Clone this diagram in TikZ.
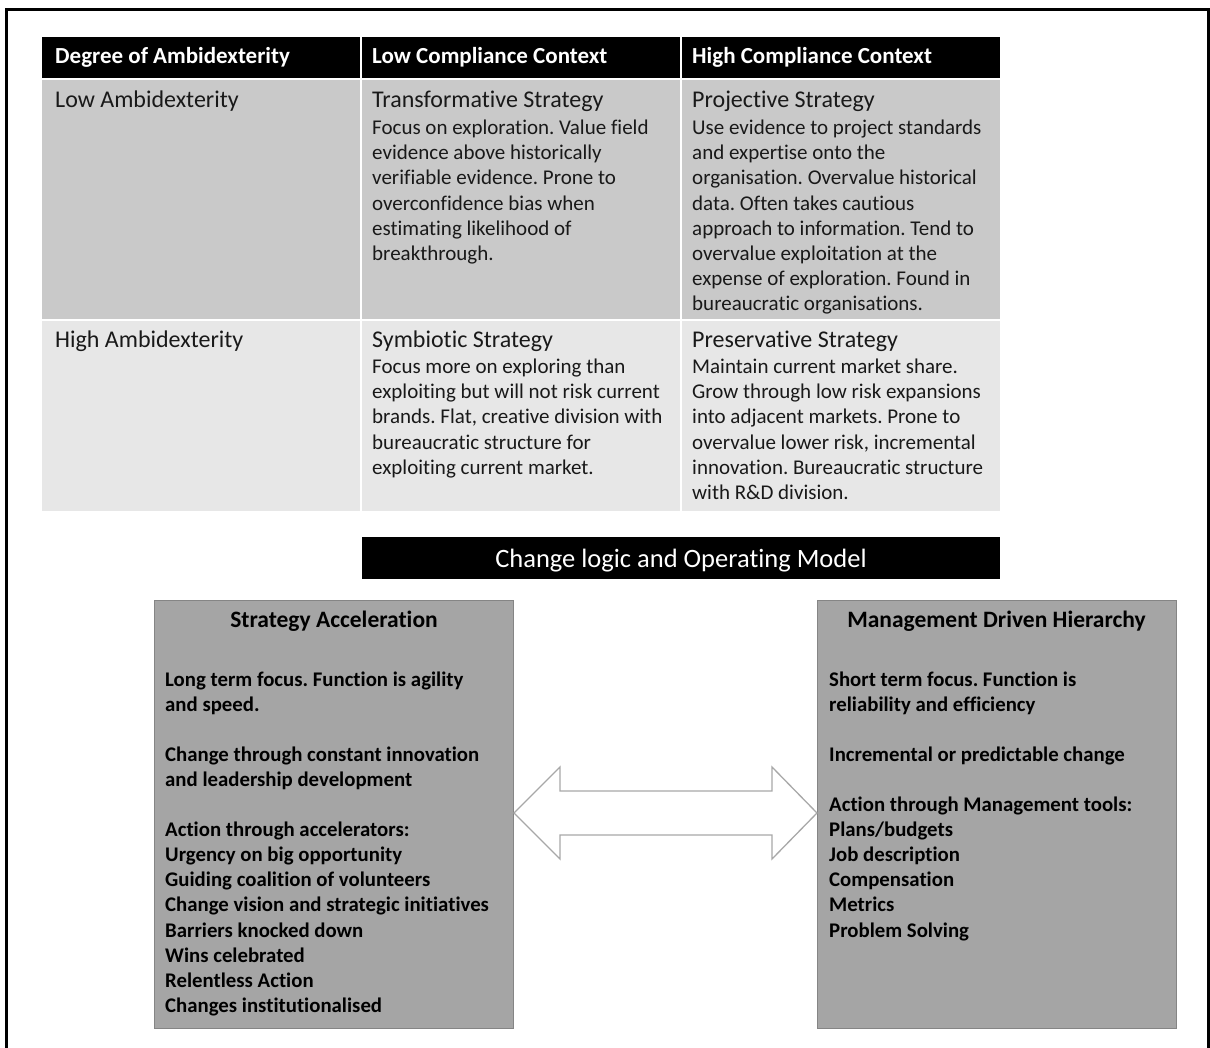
\documentclass[tikz,border=0pt]{standalone}
\usepackage{fontspec}
\setmainfont{Carlito}[Ligatures=NoCommon]
\usetikzlibrary{calc}
\frenchspacing

\definecolor{rowA}{HTML}{C9C9C9}
\definecolor{rowB}{HTML}{E7E7E7}
\definecolor{boxfill}{HTML}{A5A5A5}
\definecolor{boxline}{HTML}{858585}
\definecolor{arrline}{HTML}{A8A8A8}

% a block of lines broken by hand; first baseline is the node's base
\newcommand{\lineblock}[1]{\parbox[t]{360pt}{\raggedright\frenchspacing #1}}

\tikzset{
  headtxt/.style={anchor=base west, inner sep=0pt, text=white,
    font=\fontsize{23}{26}\selectfont\bfseries},
  celltitle/.style={anchor=base west, inner sep=0pt, text=black!90,
    font=\fontsize{24}{28}\selectfont},
  cellbody/.style={anchor=base west, inner sep=0pt, text=black!90,
    font=\fontsize{21}{25.2}\selectfont},
  modelbox/.style={draw=boxline, line width=1pt, fill=boxfill,
    anchor=north west, minimum width=359pt, minimum height=428pt, inner sep=0pt},
  boxtitle/.style={anchor=base, inner sep=0pt, text=black,
    font=\fontsize{23.5}{27}\selectfont\bfseries},
  boxbody/.style={anchor=base west, inner sep=0pt, text=black,
    font=\fontsize{20.8}{25.1}\selectfont\bfseries},
  twoway/.style={draw=arrline, line width=1.3pt, fill=white, line join=miter},
}

\begin{document}
\begin{tikzpicture}[x=1pt, y=-1pt]
\useasboundingbox (0,0) rectangle (1210,1048);

% outer frame, open at the bottom
\draw[line width=2.6pt] (6.5,1052) -- (6.5,9.5) -- (1208.5,9.5) -- (1208.5,1052);

% ---- table cells ----
\fill[black] (42,37) rectangle (360,78);
\fill[black] (362,37) rectangle (680,78);
\fill[black] (682,37) rectangle (1000,78);
\fill[rowA] (42,80.5) rectangle (360,319);
\fill[rowA] (362,80.5) rectangle (680,319);
\fill[rowA] (682,80.5) rectangle (1000,319);
\fill[rowB] (42,321) rectangle (360,511);
\fill[rowB] (362,321) rectangle (680,511);
\fill[rowB] (682,321) rectangle (1000,511);

% header row
\node[headtxt] (h1) at (55,64) {Degree of Ambidexterity};
\node[headtxt] (h2) at (372,64) {Low Compliance Context};
\node[headtxt] (h3) at (692,64) {High Compliance Context};

% first row
\node[celltitle] (r1c1) at (55,108) {Low Ambidexterity};
\node[celltitle] (r1c2) at (372,108) {Transformative Strategy};
\node[celltitle] (r1c3) at (692,108) {Projective Strategy};
\node[cellbody] (r1b2) at (372,134.5) {\lineblock{Focus on exploration. Value field\\
  evidence above historically\\ verifiable evidence. Prone to\\
  overconfidence bias when\\ estimating likelihood of\\ breakthrough.}};
\node[cellbody] (r1b3) at (692,134.5) {\lineblock{Use evidence to project standards\\
  and expertise onto the\\ organisation. Overvalue historical\\
  data. Often takes cautious\\ approach to information. Tend to\\
  overvalue exploitation at the\\ expense of exploration. Found in\\
  bureaucratic organisations.}};

% second row
\node[celltitle] (r2c1) at (55,348) {High Ambidexterity};
\node[celltitle] (r2c2) at (372,348) {Symbiotic Strategy};
\node[celltitle] (r2c3) at (692,348) {Preservative Strategy};
\node[cellbody] (r2b2) at (372,373.5) {\lineblock{Focus more on exploring than\\
  exploiting but will not risk current\\ brands. Flat, creative division with\\
  bureaucratic structure for\\ exploiting current market.}};
\node[cellbody] (r2b3) at (692,373.5) {\lineblock{Maintain current market share.\\
  Grow through low risk expansions\\ into adjacent markets. Prone to\\
  overvalue lower risk, incremental\\ innovation. Bureaucratic structure\\
  with R\&D division.}};

% ---- banner ----
\node[fill=black, anchor=north west, minimum width=638pt, minimum height=42pt,
  inner sep=0pt] (banner) at (362,537) {};
\node[anchor=base, inner sep=0pt, text=white, font=\fontsize{26.5}{30}\selectfont]
  (bannertxt) at (681,567) {Change logic and Operating Model};

% ---- operating model boxes ----
\node[modelbox] (sa) at (154,600) {};
\node[modelbox] (mh) at (817,600) {};

\node[boxtitle] (satitle) at (334,627) {Strategy Acceleration};
\node[boxtitle] (mhtitle) at (996.5,627) {Management Driven Hierarchy};

\node[boxbody] (satext) at (165,686) {\lineblock{Long term focus. Function is agility\\
  and speed.\\[25.1pt]
  Change through constant innovation\\ and leadership development\\[25.1pt]
  Action through accelerators:\\ Urgency on big opportunity\\
  Guiding coalition of volunteers\\ Change vision and strategic initiatives\\
  Barriers knocked down\\ Wins celebrated\\ Relentless Action\\
  Changes institutionalised}};

\node[boxbody] (mhtext) at (829,686) {\lineblock{Short term focus. Function is\\
  reliability and efficiency\\[25.1pt]
  Incremental or predictable change\\[25.1pt]
  Action through Management tools:\\ Plans/budgets\\ Job description\\
  Compensation\\ Metrics\\ Problem Solving}};

% ---- two-way arrow between the boxes ----
\coordinate (lt) at (sa.east |- 0,813);
\coordinate (rt) at (mh.west |- 0,813);
\draw[twoway] (lt) -- ($(lt)+(46,-46)$) -- ($(lt)+(46,-22)$)
  -- ($(rt)+(-45,-22)$) -- ($(rt)+(-45,-46)$) -- (rt)
  -- ($(rt)+(-45,46)$) -- ($(rt)+(-45,22)$)
  -- ($(lt)+(46,22)$) -- ($(lt)+(46,46)$) -- cycle;
\end{tikzpicture}
\end{document}
